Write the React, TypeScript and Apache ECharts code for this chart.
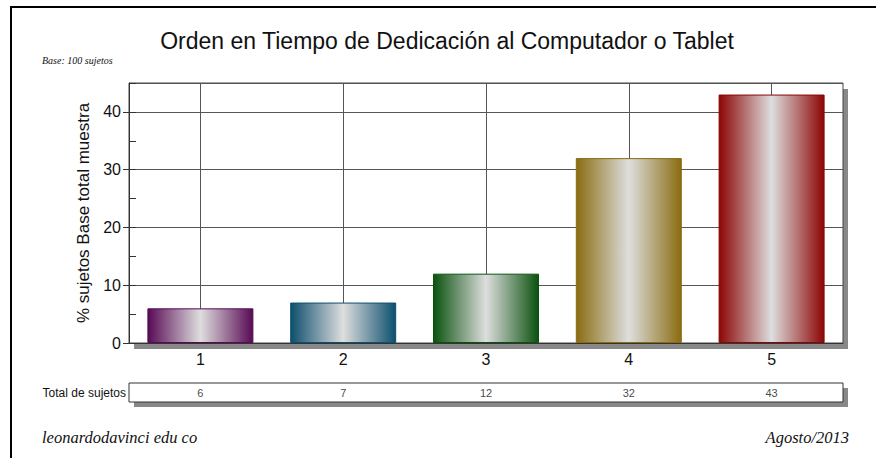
import React, { useEffect, useRef } from "react";
import * as echarts from "echarts";

const categories = ["1", "2", "3", "4", "5"];
const values = [6, 7, 12, 32, 43];
const totals = [6, 7, 12, 32, 43];
const barColors = ["#580a54", "#0c4f6e", "#0b520f", "#8a6c10", "#8c0505"];
const yTicks = { min: 0, max: 45, interval: 10, minorInterval: 5 };

const SANS = "'Liberation Sans', Arial, sans-serif";
const SERIF = "'Liberation Serif', 'Times New Roman', serif";

const PL = 129, PT = 83, PW = 714, PH = 260;
const TT = 383, TH = 19;

export default function App() {
  const ref = useRef<HTMLDivElement>(null);
  useEffect(() => {
    if (!ref.current) return;
    const chart = echarts.init(ref.current, null, { renderer: "svg" });
    const grad = (c: string) =>
      new echarts.graphic.LinearGradient(0, 0, 1, 0, [
        { offset: 0, color: c },
        { offset: 0.5, color: "#dedede" },
        { offset: 1, color: c },
      ]);
    const helperCats = Array.from({ length: categories.length * 2 + 1 }, () => "");
    chart.setOption({
      animation: false,
      backgroundColor: "#fff",
      grid: [
        { left: PL, top: PT, width: PW, height: PH },
        { left: PL, top: TT, width: PW, height: TH },
      ],
      xAxis: [
        {
          gridIndex: 0,
          type: "category",
          data: categories,
          boundaryGap: true,
          z: 1,
          axisLine: { lineStyle: { color: "#333", width: 1 } },
          axisTick: { alignWithLabel: true, length: 7, lineStyle: { color: "#333" } },
          axisLabel: { fontSize: 16, margin: 8, color: "#111", fontFamily: SANS },
          splitLine: { show: false },
        },
        {
          gridIndex: 0,
          type: "category",
          data: helperCats,
          boundaryGap: false,
          z: 1,
          axisLine: { show: false },
          axisTick: { show: false },
          axisLabel: { show: false },
          splitLine: {
            show: true,
            interval: (i: number) => i % 2 === 1,
            lineStyle: { color: "#555", width: 1 },
          },
        },
        { gridIndex: 1, type: "category", data: categories, show: false },
      ],
      yAxis: [
        {
          gridIndex: 0,
          type: "value",
          min: yTicks.min,
          max: yTicks.max,
          interval: yTicks.interval,
          z: 1,
          name: "% sujetos Base total muestra",
          nameLocation: "middle",
          nameGap: 34,
          nameTextStyle: { fontSize: 17, color: "#111", fontFamily: SANS },
          axisLine: { show: true, lineStyle: { color: "#333" } },
          axisTick: { show: true, length: 6, lineStyle: { color: "#333" } },
          axisLabel: { fontSize: 16, margin: 8, color: "#111", fontFamily: SANS, showMaxLabel: false },
          splitLine: { show: true, lineStyle: { color: "#555", width: 1 } },
        },
        {
          gridIndex: 0,
          type: "value",
          min: yTicks.min,
          max: yTicks.max,
          interval: yTicks.minorInterval,
          position: "left",
          z: 1,
          axisLine: { show: false },
          axisTick: { show: true, inside: true, length: 7, lineStyle: { color: "#333" } },
          axisLabel: { show: false },
          splitLine: { show: false },
        },
        { gridIndex: 1, type: "value", min: 0, max: 1, show: false },
      ],
      series: [
        {
          type: "bar",
          xAxisIndex: 0,
          yAxisIndex: 0,
          barWidth: 106,
          z: 2,
          data: values.map((v, i) => ({
            value: v,
            itemStyle: { color: grad(barColors[i]), borderColor: barColors[i], borderWidth: 1 },
          })),
        },
        {
          type: "scatter",
          xAxisIndex: 2,
          yAxisIndex: 2,
          symbolSize: 1,
          z: 3,
          itemStyle: { color: "rgba(0,0,0,0)" },
          label: {
            show: true,
            position: "inside",
            fontSize: 11,
            color: "#111",
            fontFamily: SANS,
            formatter: (p: any) => String(totals[p.dataIndex]),
          },
          data: totals.map((_, i) => [i, 0.5]),
        },
      ],
      graphic: [
        { type: "rect", z: 0, shape: { x: 11, y: 7, width: 1200, height: 1000 }, style: { fill: "#fff", stroke: "#000", lineWidth: 2 } },
        { type: "rect", z: 0, shape: { x: PL + 5, y: PT + 6, width: PW, height: PH }, style: { fill: "#888" } },
        { type: "rect", z: 0, shape: { x: PL, y: PT, width: PW, height: PH }, style: { fill: "#fff", stroke: "#444", lineWidth: 1 } },
        { type: "rect", z: 0, shape: { x: PL + 5, y: TT + 5, width: PW, height: TH }, style: { fill: "#888" } },
        { type: "rect", z: 0, shape: { x: PL, y: TT, width: PW, height: TH }, style: { fill: "#fff", stroke: "#333", lineWidth: 1 } },
        { type: "rect", z: 10, shape: { x: PL - 8, y: PT - 3, width: 7, height: 6 }, style: { fill: "#fff" } },
        {
          type: "text", z: 5, x: 447, y: 41,
          style: { text: "Orden en Tiempo de Dedicación al Computador o Tablet", fontSize: 23, fontFamily: SANS, fill: "#111", align: "center", verticalAlign: "middle" },
        },
        {
          type: "text", z: 5, x: 42, y: 60,
          style: { text: "Base: 100 sujetos", fontSize: 10, fontStyle: "italic", fontFamily: SERIF, fill: "#111", align: "left", verticalAlign: "middle" },
        },
        {
          type: "text", z: 5, x: 126, y: TT + TH / 2,
          style: { text: "Total de sujetos", fontSize: 12, fontFamily: SANS, fill: "#111", align: "right", verticalAlign: "middle" },
        },
        {
          type: "text", z: 5, x: 42, y: 437,
          style: { text: "leonardodavinci edu co", fontSize: 16.5, fontStyle: "italic", fontFamily: SERIF, fill: "#111", align: "left", verticalAlign: "middle" },
        },
        {
          type: "text", z: 5, x: 849, y: 437,
          style: { text: "Agosto/2013", fontSize: 16.5, fontStyle: "italic", fontFamily: SERIF, fill: "#111", align: "right", verticalAlign: "middle" },
        },
      ],
    });
    return () => chart.dispose();
  }, []);
  return (
    <div
      ref={ref}
      style={{ position: "absolute", left: 0, top: 0, width: 876, height: 458, background: "#fff" }}
    />
  );
}
